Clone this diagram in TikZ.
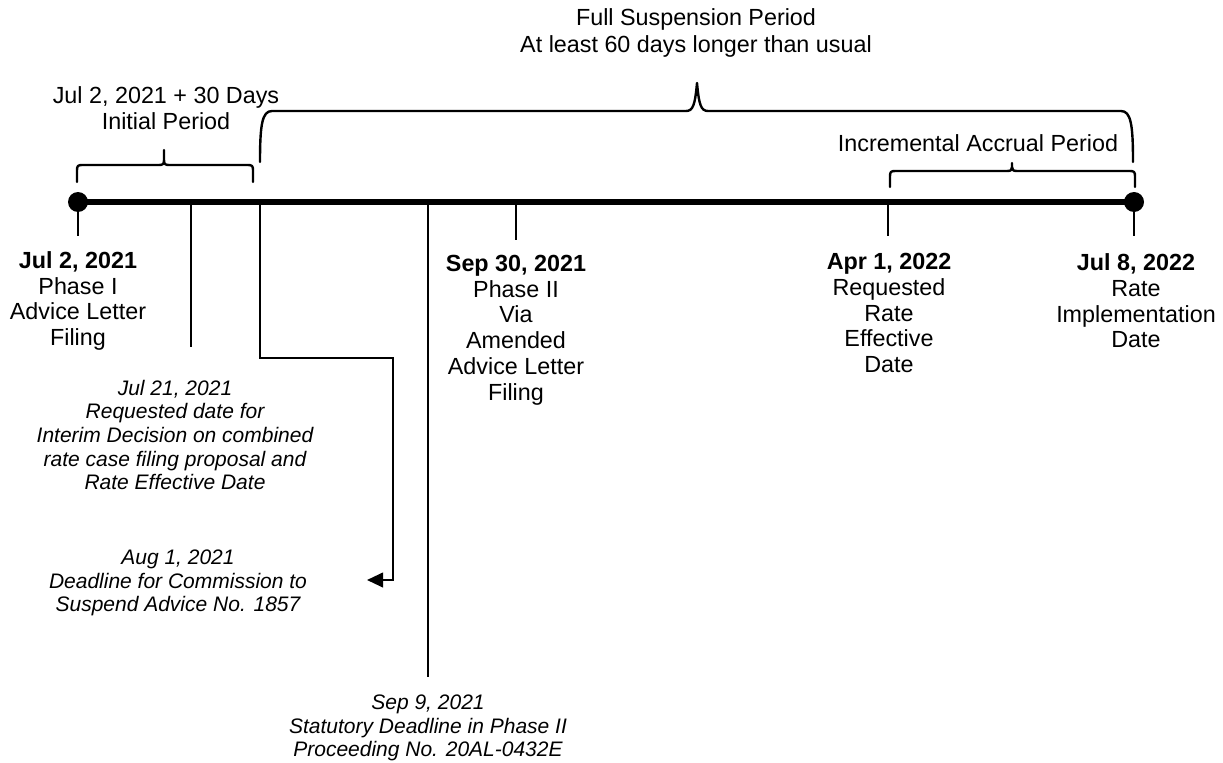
\documentclass[tikz,border=0pt]{standalone}
\usepackage{fontspec}
\setmainfont{Liberation Sans}
\usetikzlibrary{arrows.meta}
\begin{document}
\begin{tikzpicture}[x=0.75pt,y=-0.75pt,
  reg/.style={font=\fontsize{17.5}{19.3}\selectfont, align=center, inner sep=0pt},
  ital/.style={font=\fontsize{15.75}{17.8}\selectfont\itshape, align=center, inner sep=0pt},
  tick/.style={line width=1.5pt},
  bracepath/.style={line width=1.8pt, line join=round, line cap=round},
  axis/.style={line width=4.5pt},
  dot/.style={circle, fill=black, inner sep=0pt, minimum size=15pt}]
\useasboundingbox (0,0) rectangle (1223,763);
% axis
\node[dot] (start) at (78,202) {};
\node[dot] (end) at (1134,202) {};
\draw[axis] (start.center) -- (end.center);
% points on axis
\coordinate (p191) at (191,201);
\coordinate (p260) at (260,201);
\coordinate (p428) at (428,201);
\coordinate (p516) at (516,201);
\coordinate (p888) at (888,201);
% tick ends
\coordinate (e78) at (78,236);
\coordinate (e191) at (191,347);
\coordinate (e428) at (428,677);
\coordinate (e516) at (516,240);
\coordinate (e888) at (888,236);
\coordinate (e1134) at (1134,236);
\coordinate (arrowend) at (367,580);
\draw[tick] (start.center) -- (e78);
\draw[tick] (p191) -- (e191);
\draw[tick] (p428) -- (e428);
\draw[tick] (p516) -- (e516);
\draw[tick] (p888) -- (e888);
\draw[tick] (end.center) -- (e1134);
\draw[tick, -{Triangle[length=12pt,width=11pt]}] (p260) -- (260,358) -- (393,358) -- (393,580) -- (arrowend);
% braces
\draw[bracepath] (77,182) -- (77,170) .. controls (77,166) and (78,165) .. (82,165) -- (159,165)
  .. controls (163,165) and (164,164) .. (164,160) -- (164,150)
  (164,160) .. controls (164,164) and (165,165) .. (169,165) -- (248,165)
  .. controls (252,165) and (253,166) .. (253,170) -- (253,182);
\draw[bracepath] (260,162) .. controls (260,125) and (262,111) .. (272,111) -- (686,111)
  .. controls (693,111) and (695,105) .. (697,83)
  .. controls (699,105) and (701,111) .. (708,111) -- (1121,111)
  .. controls (1131,111) and (1133,125) .. (1133,162);
\draw[bracepath] (890,187) -- (890,176) .. controls (890,172) and (891,171) .. (895,171) -- (1007,171)
  .. controls (1011,171) and (1012,170) .. (1012,167) -- (1012,163)
  (1012,167) .. controls (1012,170) and (1013,171) .. (1017,171) -- (1130,171)
  .. controls (1134,171) and (1135,172) .. (1135,176) -- (1135,187);
% top labels
\node[reg, font=\fontsize{17.5}{20}\selectfont] (fullsusp) at (696,33) {Full Suspension Period\\At least 60 days longer than usual};
\node[reg] (initial) at (166,108) {Jul 2, 2021 + 30 Days\\Initial Period};
\node[reg] (incr) at (978,143) {Incremental Accrual Period};
% event labels
\node[reg] (jul2) at (78,301) {\textbf{Jul 2, 2021}\\Phase I\\Advice Letter\\Filing};
\node[reg] (sep30) at (516,330) {\textbf{Sep 30, 2021}\\Phase II\\Via\\Amended\\Advice Letter\\Filing};
\node[reg] (apr1) at (889,313) {\textbf{Apr 1, 2022}\\Requested\\Rate\\Effective\\Date};
\node[reg] (jul8) at (1136,301) {\textbf{Jul 8, 2022}\\Rate\\Implementation\\Date};
\node[ital] (jul21) at (175,435) {Jul 21, 2021\\Requested date for\\Interim Decision on combined\\rate case filing proposal and\\Rate Effective Date};
\node[ital] (aug1) at (178,583) {Aug 1, 2021\\Deadline for Commission to\\Suspend Advice No. 1857};
\node[ital] (sep9) at (428,728) {Sep 9, 2021\\Statutory Deadline in Phase II\\Proceeding No. 20AL-0432E};
\end{tikzpicture}
\end{document}
